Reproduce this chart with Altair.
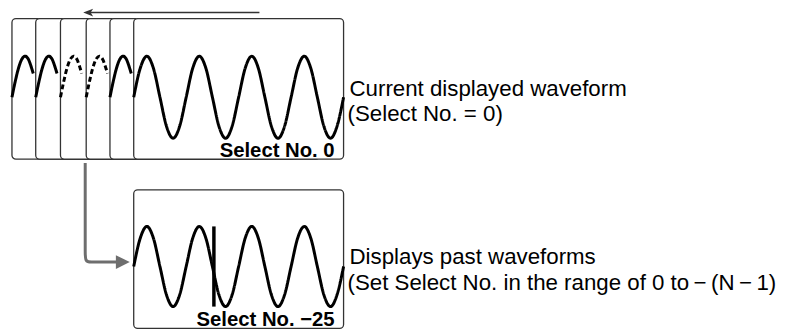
import altair as alt
import pandas as pd

# ---- data (image pixel coordinates) ----
CARD_LEFT = [12, 36, 61, 87, 111, 135]
CARD_STYLE = ["solid", "solid", "dashed", "dashed", "solid", "solid"]
CARD_WIDTH = 212
CARD_TOP = 17
CARD_BOTTOM = 159
LOWER_CARD = [135, 347, 190, 330]  # x, x2, y, y2

WAVE_X = [135, 141.6, 148.3, 154.9, 161.5, 168.1, 174.8, 181.4,
          188, 194.6, 201.3, 207.9, 214.5, 221.1, 227.8, 234.4,
          241, 247.6, 254.3, 260.9, 267.5, 274.1, 280.8, 287.4,
          294, 300.6, 307.3, 313.9, 320.5, 327.1, 333.8, 340.4, 347]
UPPER_Y = [96.5, 67.2, 55, 67.2, 96.5, 125.8, 138, 125.8,
           96.5, 67.2, 55, 67.2, 96.5, 125.8, 138, 125.8,
           96.5, 67.2, 55, 67.2, 96.5, 125.8, 138, 125.8,
           96.5, 67.2, 55, 67.2, 96.5, 125.8, 138, 125.8, 96.5]
LOWER_Y = [267.5, 238.9, 227, 238.9, 267.5, 296.1, 308, 296.1,
           267.5, 238.9, 227, 238.9, 267.5, 296.1, 308, 296.1,
           267.5, 238.9, 227, 238.9, 267.5, 296.1, 308, 296.1,
           267.5, 238.9, 227, 238.9, 267.5, 296.1, 308, 296.1, 267.5]
STRIP_DX = [0, 3.3, 6.6, 9.9, 13.2, 16.6, 19.9, 21.5]
STRIP_Y = [96.5, 80.6, 67.2, 58.2, 55, 58.2, 67.2, 72.5]

BAR_X = 216
BAR_Y = [227, 308]

ARROW_X = [89, 262]
ARROW_Y = 11

CONN_X = [86, 86, 86, 86, 92, 100, 118]
CONN_Y = [163, 240, 252, 263, 263, 263, 263]
CONN_HEAD = [124, 263]

LABELS = ["Select No. 0", "Select No. \u221225"]
LABEL_X = [338, 338]
LABEL_Y = [157, 328]

DESC = ["Current displayed waveform", "(Select No. = 0)",
        "Displays past waveforms",
        "(Set Select No. in the range of 0 to\u2009\u2212\u2009(N\u2009\u2212\u20091)"]
DESC_X = [353, 351, 353, 351]
DESC_Y = [95, 121, 265, 291]

# ---- tables ----
cards = []
for i, (left, st) in enumerate(zip(CARD_LEFT, CARD_STYLE)):
    cards.append({"x": left, "x2": left + CARD_WIDTH, "y": CARD_TOP,
                  "y2": CARD_BOTTOM, "style": st, "ord": i})
cards.append({"x": LOWER_CARD[0], "x2": LOWER_CARD[1], "y": LOWER_CARD[2],
              "y2": LOWER_CARD[3], "style": "solid", "ord": len(cards)})
cards_df = pd.DataFrame(cards)

waves = []
for i, (x, y) in enumerate(zip(WAVE_X, UPPER_Y)):
    waves.append({"series": "upper", "i": i, "x": x, "y": y, "style": "solid"})
for i, (x, y) in enumerate(zip(WAVE_X, LOWER_Y)):
    waves.append({"series": "lower", "i": i, "x": x, "y": y, "style": "solid"})
for k, (left, st) in enumerate(zip(CARD_LEFT[:-1], CARD_STYLE[:-1])):
    for i, (dx, y) in enumerate(zip(STRIP_DX, STRIP_Y)):
        waves.append({"series": f"strip{k}", "i": i, "x": left + dx, "y": y,
                      "style": st})
waves_df = pd.DataFrame(waves)

conn_df = pd.DataFrame({"x": CONN_X, "y": CONN_Y, "i": list(range(len(CONN_X)))})

xs = alt.Scale(domain=[8, 799], nice=False, zero=False)
ys = alt.Scale(domain=[8, 331], nice=False, zero=False, reverse=True)
dash = alt.Scale(domain=["solid", "dashed"], range=[[1, 0], [5, 3]])

rects = alt.Chart(cards_df).mark_rect(
    cornerRadius=4, fill="white", stroke="#333333", strokeWidth=1.3
).encode(
    x=alt.X("x:Q", scale=xs, axis=None),
    x2="x2:Q",
    y=alt.Y("y:Q", scale=ys, axis=None),
    y2="y2:Q",
    strokeDash=alt.StrokeDash("style:N", scale=dash, legend=None),
    order=alt.Order("ord:Q"),
)

lines = alt.Chart(waves_df).mark_line(
    interpolate="monotone", color="black", strokeWidth=3, strokeCap="butt"
).encode(
    x=alt.X("x:Q", scale=xs, axis=None),
    y=alt.Y("y:Q", scale=ys, axis=None),
    detail="series:N",
    order="i:Q",
    strokeDash=alt.StrokeDash("style:N", scale=dash, legend=None),
)

bar = alt.Chart(pd.DataFrame({"x": [BAR_X], "y": [BAR_Y[0]], "y2": [BAR_Y[1]]})).mark_rule(
    color="black", strokeWidth=3.5
).encode(
    x=alt.X("x:Q", scale=xs, axis=None),
    y=alt.Y("y:Q", scale=ys, axis=None),
    y2="y2:Q",
)

arrow = alt.Chart(pd.DataFrame({"x": [ARROW_X[0]], "x2": [ARROW_X[1]], "y": [ARROW_Y]})).mark_rule(
    color="#333333", strokeWidth=1.5
).encode(
    x=alt.X("x:Q", scale=xs, axis=None),
    x2="x2:Q",
    y=alt.Y("y:Q", scale=ys, axis=None),
)
arrow_head = alt.Chart(pd.DataFrame({"x": [ARROW_X[0]], "y": [ARROW_Y]})).mark_point(
    shape="M-1,0L1,-0.8L0.5,0L1,0.8Z", size=100, filled=True, color="#333333", opacity=1
).encode(
    x=alt.X("x:Q", scale=xs, axis=None),
    y=alt.Y("y:Q", scale=ys, axis=None),
)

conn = alt.Chart(conn_df).mark_line(
    interpolate="basis", color="#6e6e6e", strokeWidth=3
).encode(
    x=alt.X("x:Q", scale=xs, axis=None),
    y=alt.Y("y:Q", scale=ys, axis=None),
    order="i:Q",
)
conn_head = alt.Chart(pd.DataFrame({"x": [CONN_HEAD[0]], "y": [CONN_HEAD[1]]})).mark_point(
    shape="M-1,-1L1,0L-1,1Z", size=196, filled=True, color="#6e6e6e", opacity=1
).encode(
    x=alt.X("x:Q", scale=xs, axis=None),
    y=alt.Y("y:Q", scale=ys, axis=None),
)

labels = alt.Chart(pd.DataFrame({"x": LABEL_X, "y": LABEL_Y, "t": LABELS})).mark_text(
    align="right", baseline="alphabetic", fontWeight="bold", fontSize=20.5,
    font="Liberation Sans", color="black"
).encode(
    x=alt.X("x:Q", scale=xs, axis=None),
    y=alt.Y("y:Q", scale=ys, axis=None),
    text="t:N",
)

desc = alt.Chart(pd.DataFrame({"x": DESC_X, "y": DESC_Y, "t": DESC})).mark_text(
    align="left", baseline="alphabetic", fontSize=22.5,
    font="Liberation Sans", color="black"
).encode(
    x=alt.X("x:Q", scale=xs, axis=None),
    y=alt.Y("y:Q", scale=ys, axis=None),
    text="t:N",
)

chart = alt.layer(
    rects, lines, bar, arrow, arrow_head, conn, conn_head, labels, desc
).properties(
    width=791, height=323, padding=0,
    autosize=alt.AutoSizeParams(type="none"),
).configure_view(stroke=None)

chart.save("out.html", embed_options={"renderer": "svg", "actions": False})
